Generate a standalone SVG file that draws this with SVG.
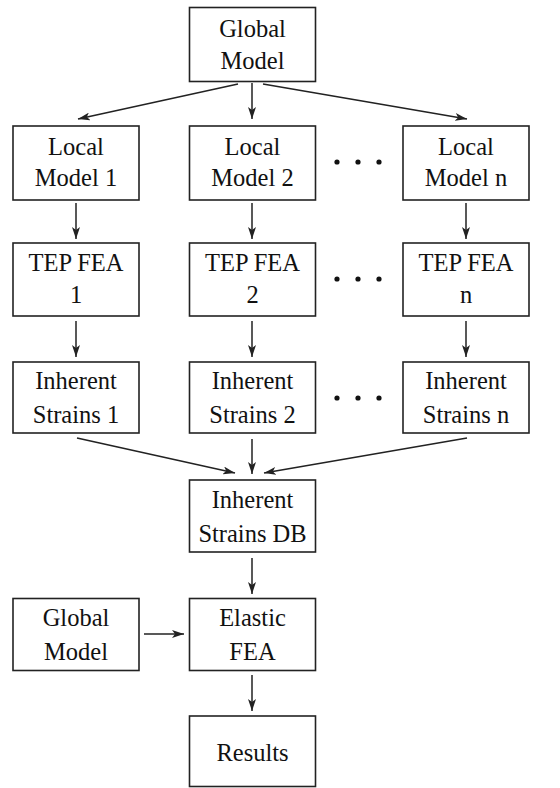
<svg xmlns="http://www.w3.org/2000/svg" width="560" height="788" viewBox="0 0 560 788">
  <style>
    .box { fill: #fff; stroke: #222; stroke-width: 1.6; }
    .lbl { font-size: 24.5px; fill: #111; text-anchor: middle; }
    .edge { stroke: #222; stroke-width: 1.5; fill: none; marker-end: url(#arrow); }
    .dot { fill: #111; }
  </style>
  <defs>
    <marker id="arrow" viewBox="0 0 12 8" refX="12" refY="4" markerWidth="12" markerHeight="8" markerUnits="userSpaceOnUse" orient="auto">
      <path d="M0,0 L12,4 L0,8 L3,4 Z" fill="#222"/>
    </marker>
  </defs>
  <rect width="560" height="788" fill="#fff"/>

  <g id="connectors">
    <line class="edge" x1="238" y1="84" x2="78" y2="119"/>
    <line class="edge" x1="252" y1="83" x2="252" y2="119"/>
    <line class="edge" x1="263" y1="84" x2="467" y2="119"/>

    <line class="edge" x1="76" y1="203" x2="76" y2="239"/>
    <line class="edge" x1="252" y1="203" x2="252" y2="239"/>
    <line class="edge" x1="466" y1="203" x2="466" y2="239"/>

    <line class="edge" x1="76" y1="321" x2="76" y2="357"/>
    <line class="edge" x1="252" y1="321" x2="252" y2="357"/>
    <line class="edge" x1="466" y1="321" x2="466" y2="357"/>

    <line class="edge" x1="77" y1="438" x2="235" y2="473"/>
    <line class="edge" x1="252" y1="439" x2="252" y2="474"/>
    <line class="edge" x1="467" y1="438" x2="264" y2="473"/>

    <line class="edge" x1="252" y1="558" x2="252" y2="594"/>
    <line class="edge" x1="144" y1="634" x2="184" y2="634"/>
    <line class="edge" x1="252" y1="675" x2="252" y2="711"/>
  </g>

  <g font-family="Liberation Serif, Tinos, Nimbus Roman, DejaVu Serif, serif">
  <g id="global-model">
    <rect class="box" x="189.5" y="7.5" width="126" height="74"/>
    <text class="lbl" x="252.5" y="37">Global</text>
    <text class="lbl" x="252.5" y="69">Model</text>
  </g>

  <g id="local-model-1">
    <rect class="box" x="13" y="126" width="126" height="74"/>
    <text class="lbl" x="76" y="155">Local</text>
    <text class="lbl" x="76" y="186">Model 1</text>
  </g>
  <g id="local-model-2">
    <rect class="box" x="189.5" y="126" width="126" height="74"/>
    <text class="lbl" x="252.5" y="155">Local</text>
    <text class="lbl" x="252.5" y="186">Model 2</text>
  </g>
  <g id="local-model-n">
    <rect class="box" x="403" y="126" width="126" height="74"/>
    <text class="lbl" x="466" y="155">Local</text>
    <text class="lbl" x="466" y="186">Model n</text>
  </g>

  <g id="tep-fea-1">
    <rect class="box" x="13" y="243" width="126" height="73"/>
    <text class="lbl" x="76" y="271">TEP FEA</text>
    <text class="lbl" x="76" y="303">1</text>
  </g>
  <g id="tep-fea-2">
    <rect class="box" x="189.5" y="243" width="126" height="73"/>
    <text class="lbl" x="252.5" y="271">TEP FEA</text>
    <text class="lbl" x="252.5" y="303">2</text>
  </g>
  <g id="tep-fea-n">
    <rect class="box" x="403" y="243" width="126" height="73"/>
    <text class="lbl" x="466" y="271">TEP FEA</text>
    <text class="lbl" x="466" y="303">n</text>
  </g>

  <g id="inherent-strains-1">
    <rect class="box" x="13" y="362" width="126" height="71"/>
    <text class="lbl" x="76" y="389">Inherent</text>
    <text class="lbl" x="76" y="423">Strains 1</text>
  </g>
  <g id="inherent-strains-2">
    <rect class="box" x="189.5" y="362" width="126" height="71"/>
    <text class="lbl" x="252.5" y="389">Inherent</text>
    <text class="lbl" x="252.5" y="423">Strains 2</text>
  </g>
  <g id="inherent-strains-n">
    <rect class="box" x="403" y="362" width="126" height="71"/>
    <text class="lbl" x="466" y="389">Inherent</text>
    <text class="lbl" x="466" y="423">Strains n</text>
  </g>

  <g id="inherent-strains-db">
    <rect class="box" x="189.5" y="480" width="126" height="72"/>
    <text class="lbl" x="252.5" y="508">Inherent</text>
    <text class="lbl" x="252.5" y="542">Strains DB</text>
  </g>

  <g id="global-model-2">
    <rect class="box" x="13" y="598.5" width="126" height="72"/>
    <text class="lbl" x="76" y="626">Global</text>
    <text class="lbl" x="76" y="660">Model</text>
  </g>

  <g id="elastic-fea">
    <rect class="box" x="189.5" y="598.5" width="126" height="72"/>
    <text class="lbl" x="252.5" y="626">Elastic</text>
    <text class="lbl" x="252.5" y="660">FEA</text>
  </g>

  <g id="results">
    <rect class="box" x="189.5" y="716" width="126" height="70.5"/>
    <text class="lbl" x="252.5" y="761">Results</text>
  </g>
  </g>

  <g id="ellipsis">
    <circle class="dot" cx="337" cy="162" r="2.6"/>
    <circle class="dot" cx="358" cy="162" r="2.6"/>
    <circle class="dot" cx="379" cy="162" r="2.6"/>
    <circle class="dot" cx="337" cy="279" r="2.6"/>
    <circle class="dot" cx="358" cy="279" r="2.6"/>
    <circle class="dot" cx="379" cy="279" r="2.6"/>
    <circle class="dot" cx="337" cy="398" r="2.6"/>
    <circle class="dot" cx="358" cy="398" r="2.6"/>
    <circle class="dot" cx="379" cy="398" r="2.6"/>
  </g>
</svg>
